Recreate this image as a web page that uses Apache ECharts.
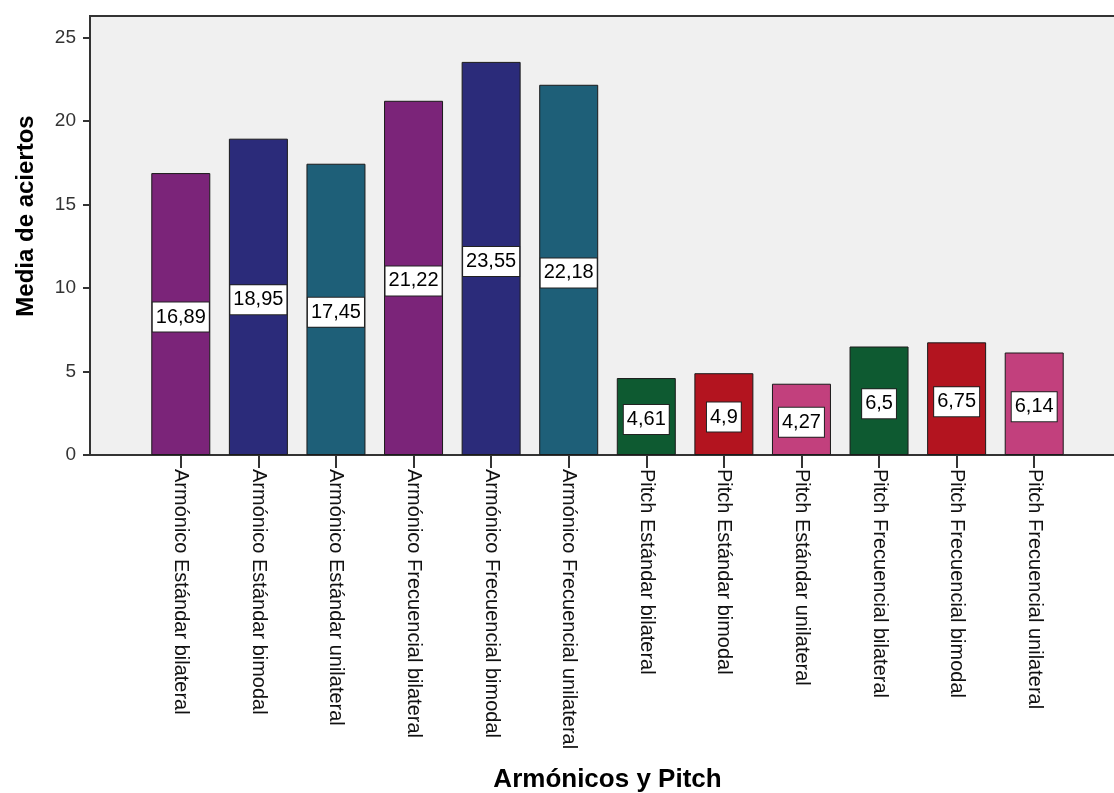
<!DOCTYPE html>
<html>
<head>
<meta charset="utf-8">
<script src="https://cdn.jsdelivr.net/npm/echarts@6/dist/echarts.min.js"></script>
<style>
  html, body { margin: 0; padding: 0; background: #fff; }
  #chart { width: 1114px; height: 793px; }
</style>
</head>
<body>
<div id="chart"></div>
<script>
// Mean number of correct answers per condition
const categories = [
  'Armónico Estándar bilateral',
  'Armónico Estándar bimodal',
  'Armónico Estándar unilateral',
  'Armónico Frecuencial bilateral',
  'Armónico Frecuencial bimodal',
  'Armónico Frecuencial unilateral',
  'Pitch Estándar bilateral',
  'Pitch Estándar bimodal',
  'Pitch Estándar unilateral',
  'Pitch Frecuencial bilateral',
  'Pitch Frecuencial bimodal',
  'Pitch Frecuencial unilateral'
];
const means = [16.89, 18.95, 17.45, 21.22, 23.55, 22.18, 4.61, 4.9, 4.27, 6.5, 6.75, 6.14];
const yTicks = [0, 5, 10, 15, 20, 25];

// Fill colour for each bar
const barColors = [
  '#7b2479', '#2b2b7a', '#1e5f78',
  '#7b2479', '#2b2b7a', '#1e5f78',
  '#0e5a31', '#b3141f', '#c2407d',
  '#0e5a31', '#b3141f', '#c2407d'
];

const FONT = 'Liberation Sans, Arial, sans-serif';
const Y_MAX = 26.3;

const chart = echarts.init(document.getElementById('chart'), null, { renderer: 'canvas' });

chart.setOption({
  backgroundColor: '#ffffff',
  animation: false,
  grid: [
    // plotting panel with the value axis
    { left: 90, right: -6, top: 16, bottom: 338, show: true, containLabel: false, outerBoundsMode: 'none',
      backgroundColor: '#f0f0f0', borderColor: '#333', borderWidth: 2 },
    // band holding the bars
    { left: 142, width: 931, top: 16, bottom: 338, containLabel: false, outerBoundsMode: 'none' }
  ],
  xAxis: [
    { gridIndex: 0, type: 'value', min: 0, max: 1, show: true,
      axisLine: { show: true, lineStyle: { color: '#333', width: 2 } },
      axisTick: { show: false }, axisLabel: { show: false }, splitLine: { show: false } },
    { gridIndex: 1, type: 'category', data: categories,
      name: 'Armónicos y Pitch', nameLocation: 'middle', nameGap: 325,
      nameTextStyle: { fontFamily: FONT, fontWeight: 'bold', fontSize: 26, color: '#000', verticalAlign: 'middle' },
      axisLine: { show: false },
      axisTick: { show: true, alignWithLabel: true, length: 13, lineStyle: { color: '#333', width: 2 } },
      axisLabel: { rotate: -90, margin: 14, fontFamily: FONT, fontSize: 20, color: '#111', interval: 0 },
      splitLine: { show: false } }
  ],
  yAxis: [
    { gridIndex: 0, type: 'value', min: 0, max: Y_MAX, interval: 5,
      axisLine: { show: true, lineStyle: { color: '#333', width: 2 } },
      axisTick: { show: true, length: 7, lineStyle: { color: '#333', width: 2 } },
      axisLabel: { margin: 14, fontFamily: FONT, fontSize: 19, color: '#333', showMaxLabel: false,
        formatter: v => (yTicks.indexOf(v) >= 0 ? String(v) : '') },
      splitLine: { show: false } },
    { gridIndex: 1, type: 'value', min: 0, max: Y_MAX, show: false }
  ],
  graphic: [
    { type: 'text', x: 26, y: 216, rotation: Math.PI / 2,
      style: { text: 'Media de aciertos', fill: '#000', textAlign: 'center', textVerticalAlign: 'middle',
        font: 'bold 24px ' + FONT } }
  ],
  series: [
    {
      type: 'bar',
      xAxisIndex: 1,
      yAxisIndex: 1,
      barWidth: 59,
      data: means.map((v, i) => ({
        value: v,
        itemStyle: { color: barColors[i], borderColor: '#1a1a1a', borderWidth: 1 }
      })),
      label: {
        show: true,
        position: 'inside',
        offset: [0, 3],
        formatter: p => String(p.value).replace('.', ','),
        fontFamily: FONT,
        fontSize: 20,
        color: '#000',
        backgroundColor: '#ffffff',
        borderColor: '#222',
        borderWidth: 1,
        padding: [5, 3, 4, 3]
      }
    }
  ]
});
</script>
</body>
</html>
